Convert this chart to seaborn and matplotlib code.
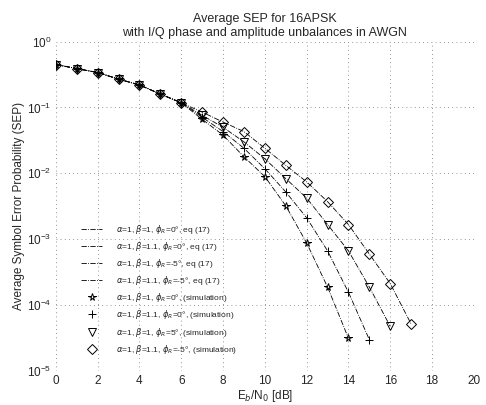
import numpy as np
import pandas as pd
import matplotlib
matplotlib.use('Agg')
import matplotlib.pyplot as plt
import seaborn as sns

# ── data (SEP vs Eb/N0 in dB) ─────────────────────────────────────────────────
LOW_SNR = [0.45, 0.39, 0.34, 0.27, 0.22, 0.16, 0.118]   # 0..6 dB, curves overlap

sep_ideal = LOW_SNR + [0.066, 0.038, 0.0178, 0.0089, 0.0032, 8.7e-4, 1.86e-4, 3.1e-5]
sep_beta = LOW_SNR + [0.071, 0.043, 0.024, 0.0117, 0.0052, 0.0021, 6.6e-4, 1.55e-4, 2.95e-5]
sep_phase = LOW_SNR + [0.076, 0.050, 0.030, 0.0166, 0.0083, 0.0042, 0.00166, 6.6e-4,
                       1.86e-4, 4.7e-5]
sep_both = LOW_SNR + [0.085, 0.060, 0.043, 0.024, 0.0132, 0.0074, 0.0037, 0.00166,
                      5.9e-4, 2.1e-4, 5.1e-5]

theory_labels = [
    r'$\alpha$=1, $\beta$=1, $\phi_R$=0°, eq (17)',
    r'$\alpha$=1, $\beta$=1.1, $\phi_R$=0°, eq (17)',
    r'$\alpha$=1, $\beta$=1, $\phi_R$=-5°, eq (17)',
    r'$\alpha$=1, $\beta$=1.1, $\phi_R$=-5°, eq (17)',
]
sim_labels = [
    r'$\alpha$=1, $\beta$=1, $\phi_R$=0°, (simulation)',
    r'$\alpha$=1, $\beta$=1.1, $\phi_R$=0°, (simulation)',
    r'$\alpha$=1, $\beta$=1, $\phi_R$=5°, (simulation)',
    r'$\alpha$=1, $\beta$=1.1, $\phi_R$=-5°, (simulation)',
]
curves = [sep_ideal, sep_beta, sep_phase, sep_both]
sim_markers = ['*', '+', 'v', 'D']

sns.set_style('white')
plt.rcParams['font.family'] = ['Liberation Sans', 'DejaVu Sans']
plt.rcParams['mathtext.fontset'] = 'dejavusans'

fig = plt.figure(figsize=(4.86, 4.05), dpi=100)
ax = fig.add_axes([0.115, 0.085, 0.86, 0.812])

# theory lines (eq. 17)
for sep, lab in zip(curves, theory_labels):
    df = pd.DataFrame({'ebno': np.arange(len(sep)), 'sep': sep})
    sns.lineplot(data=df, x='ebno', y='sep', ax=ax, color='k', linestyle='-.',
                 linewidth=0.6, label=lab)

# simulation markers
for sep, lab, mk in zip(curves, sim_labels, sim_markers):
    df = pd.DataFrame({'ebno': np.arange(len(sep)), 'sep': sep})
    sns.lineplot(data=df, x='ebno', y='sep', ax=ax, linestyle='', marker=mk,
                 markersize=5.5, markerfacecolor='none', markeredgecolor='k',
                 markeredgewidth=0.7, color='k', label=lab)

ax.set_yscale('log')
ax.set_xlim(0, 20)
ax.set_ylim(1e-5, 1)
ax.set_xticks(range(0, 21, 2))
ax.grid(True, which='major', linestyle=(0, (1, 4)), color='0.45', linewidth=0.6)
for s in ax.spines.values():
    s.set_visible(False)
ax.tick_params(axis='both', length=0, labelsize=8.5, pad=3)

ax.set_xlabel(r'E$_b$/N$_0$ [dB]', fontsize=8.5, labelpad=1)
ax.set_ylabel('Average Symbol Error Probability (SEP)', fontsize=8.5, labelpad=2)
ax.set_title('Average SEP for 16APSK\nwith I/Q phase and amplitude unbalances in AWGN',
             fontsize=9, pad=4)

ax.legend(loc='lower left', bbox_to_anchor=(0.053, 0.035), frameon=False,
          fontsize=6, labelspacing=0.5, handlelength=2.5, handletextpad=1.6,
          borderaxespad=0)

fig.savefig('out.png', dpi=100)
